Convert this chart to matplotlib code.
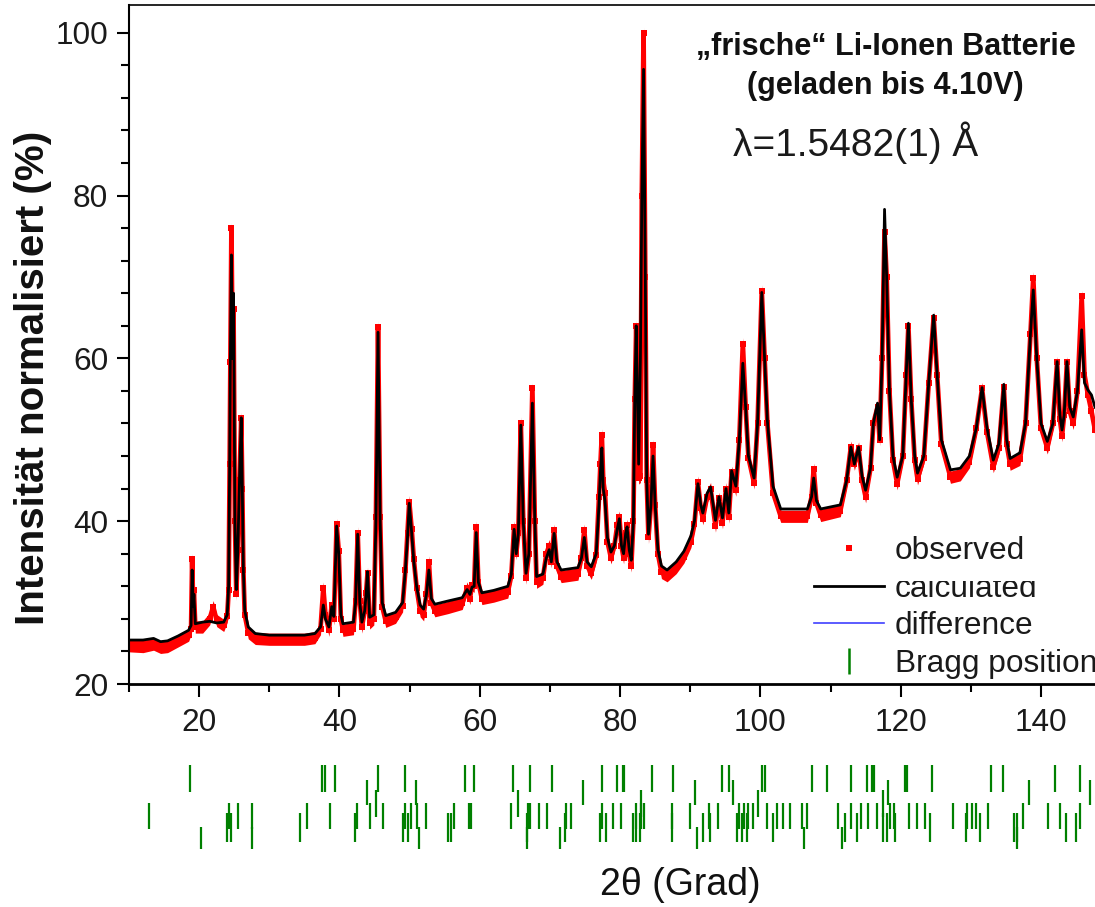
import matplotlib
matplotlib.use("Agg")
import matplotlib.pyplot as plt
from matplotlib.lines import Line2D
from matplotlib.patches import Rectangle
from matplotlib.ticker import MultipleLocator

plt.rcParams['font.family'] = ['Liberation Sans', 'DejaVu Sans']

# ---------------- data ----------------
two_theta = [10.0, 12.0, 13.5, 14.5, 15.5, 17.0, 18.5, 18.85, 19.0, 19.15, 19.25, 19.45,
             20.5, 21.5, 22.0, 22.5, 23.5, 24.0, 24.2, 24.35, 24.45, 24.6, 24.75, 24.9,
             25.1, 25.3, 25.5, 25.75, 26.0, 26.15, 26.3, 26.5, 27.0, 28.0, 30.0, 35.0,
             36.5, 37.3, 37.7, 38.0, 38.5, 38.9, 39.2, 39.6, 39.9, 40.2, 40.5, 42.0,
             42.3, 42.6, 42.9, 43.2, 43.6, 43.8, 44.0, 44.3, 44.9, 45.2, 45.5, 45.8,
             46.1, 46.6, 48.0, 49.0, 49.4, 49.7, 49.95, 50.3, 50.6, 51.0, 51.5, 52.0,
             52.4, 52.75, 53.1, 53.6, 55.5, 57.5, 58.2, 58.6, 58.9, 59.2, 59.5, 59.8,
             60.3, 62.0, 64.0, 64.5, 64.9, 65.2, 65.5, 65.85, 66.2, 66.6, 67.0, 67.5,
             67.85, 68.1, 69.0, 69.5, 69.9, 70.2, 70.6, 71.0, 71.6, 74.0, 74.5, 74.9,
             75.3, 75.9, 76.6, 77.0, 77.2, 77.4, 77.6, 77.85, 78.2, 78.7, 79.2, 79.6,
             79.9, 80.2, 80.5, 80.8, 81.0, 81.3, 81.6, 81.9, 82.1, 82.3, 82.65, 82.9,
             83.1, 83.35, 83.6, 83.8, 84.05, 84.4, 84.7, 85.0, 85.4, 85.9, 86.7, 88.0,
             89.1, 90.1, 90.6, 91.1, 91.5, 91.8, 92.4, 92.9, 93.6, 94.1, 94.6, 95.1,
             95.5, 95.9, 96.5, 97.0, 97.5, 97.9, 98.3, 99.1, 99.6, 100.2, 100.6, 101.0,
             101.8, 102.9, 106.7, 107.3, 107.6, 108.0, 108.6, 111.4, 112.3, 112.9, 113.4, 114.0,
             114.5, 115.0, 115.7, 116.1, 116.7, 117.0, 117.35, 117.7, 118.0, 118.4, 118.9, 119.5,
             120.3, 120.8, 121.1, 121.5, 122.0, 122.4, 123.3, 124.0, 124.7, 125.2, 125.8, 127.1,
             128.5, 129.8, 130.8, 131.6, 132.3, 133.2, 134.0, 134.7, 135.1, 135.6, 137.0, 137.8,
             138.5, 138.9, 139.4, 140.0, 140.9, 141.7, 142.3, 142.7, 143.0, 143.3, 143.7, 144.1,
             144.6, 145.2, 145.8, 146.2, 146.7, 147.2, 147.7]

y_calc = [25.4, 25.4, 25.6, 25.2, 25.3, 25.9, 26.6, 27.2, 34.0, 29.5, 31.0, 27.4,
          27.6, 27.7, 27.6, 27.5, 27.6, 28.5, 32.0, 47.0, 60.0, 72.7, 60.0, 68.0,
          40.0, 31.6, 36.0, 45.0, 52.7, 44.0, 34.0, 29.0, 27.0, 26.2, 26.0, 26.0,
          26.2, 27.0, 29.7, 28.0, 27.0, 29.5, 28.3, 39.4, 36.0, 28.5, 27.4, 27.6,
          30.0, 38.4, 30.0, 27.6, 29.0, 31.0, 33.8, 28.2, 28.5, 40.0, 63.2, 40.0,
          30.0, 28.4, 28.8, 30.0, 34.0, 38.0, 42.2, 38.5, 35.0, 32.0, 29.7, 29.2,
          31.0, 34.0, 30.5, 29.8, 30.2, 30.6, 31.6, 31.0, 31.9, 32.0, 38.6, 32.5,
          31.2, 31.5, 32.0, 33.5, 39.0, 36.0, 38.5, 51.8, 40.0, 33.6, 36.0, 54.5,
          40.0, 33.2, 33.5, 35.5, 36.5, 35.0, 38.5, 35.0, 34.0, 34.3, 35.5, 38.0,
          35.0, 34.4, 36.0, 42.0, 46.0, 49.0, 44.0, 42.5, 38.0, 36.2, 37.0, 39.0,
          40.3, 37.0, 36.0, 38.5, 39.3, 36.5, 35.2, 40.0, 55.0, 64.0, 47.0, 60.0,
          79.5, 95.5, 70.0, 45.0, 38.4, 42.0, 48.0, 42.0, 36.5, 34.5, 34.0, 35.0,
          36.3, 38.2, 40.0, 44.6, 42.0, 41.0, 43.4, 44.2, 40.1, 43.0, 40.4, 44.0,
          41.0, 46.2, 44.3, 50.0, 59.4, 54.0, 48.0, 45.3, 52.0, 68.1, 60.0, 52.3,
          44.3, 41.5, 41.5, 43.0, 45.3, 42.5, 41.5, 42.0, 45.0, 49.1, 47.0, 49.1,
          45.5, 43.8, 46.5, 52.0, 54.5, 50.0, 60.0, 78.3, 70.0, 56.0, 48.0, 45.4,
          48.0, 58.0, 64.3, 55.0, 48.0, 45.9, 48.0, 57.0, 65.3, 58.0, 50.0, 46.3,
          46.5, 48.0, 51.5, 56.4, 51.5, 47.5, 49.5, 56.8, 50.0, 47.7, 48.4, 52.0,
          63.0, 68.4, 60.0, 52.0, 49.8, 52.0, 59.6, 53.0, 51.2, 53.0, 59.6, 54.0,
          52.8, 56.0, 63.5, 57.0, 56.1, 55.5, 54.0]

y_obs = [24.7, 24.6, 24.9, 24.5, 24.6, 25.3, 26.0, 26.8, 35.3, 29.5, 31.5, 27.0,
         27.0, 28.0, 29.5, 27.8, 27.2, 28.3, 31.5, 47.0, 59.5, 76.0, 62.0, 66.0,
         40.0, 31.0, 36.5, 45.0, 52.7, 44.0, 34.0, 28.5, 26.3, 25.6, 25.5, 25.5,
         25.7, 26.8, 31.8, 28.5, 26.6, 29.7, 28.0, 39.6, 36.3, 28.0, 26.6, 26.8,
         30.2, 38.6, 30.2, 27.0, 29.0, 31.2, 33.6, 27.5, 28.0, 40.5, 63.9, 40.5,
         29.5, 27.7, 28.2, 29.6, 34.0, 38.5, 42.4, 39.0, 35.3, 31.8, 29.0, 28.5,
         31.0, 35.0, 30.0, 29.0, 29.4, 29.9, 31.8, 30.5, 32.2, 32.0, 39.3, 32.5,
         30.5, 30.8, 31.3, 33.3, 39.3, 36.0, 38.5, 52.1, 40.0, 33.0, 36.0, 56.3,
         40.0, 32.5, 33.0, 36.0, 37.0, 35.0, 38.9, 34.5, 33.2, 33.5, 35.5, 38.9,
         34.5, 33.6, 35.8, 43.0, 47.0, 50.6, 45.0, 43.5, 37.5, 35.5, 37.0, 39.5,
         40.5, 37.0, 35.5, 38.5, 39.5, 36.0, 34.5, 40.0, 55.0, 64.0, 45.3, 45.5,
         80.0, 100.0, 70.0, 45.0, 38.0, 42.0, 49.3, 42.0, 36.0, 33.7, 33.3, 34.3,
         35.6, 37.5, 39.6, 44.8, 41.6, 40.3, 43.0, 44.0, 39.4, 42.8, 39.8, 44.0,
         40.5, 46.0, 43.8, 50.0, 61.8, 54.0, 47.8, 44.7, 52.0, 68.3, 60.0, 52.0,
         43.5, 40.6, 40.6, 43.0, 46.4, 42.2, 40.7, 41.3, 45.0, 49.1, 47.0, 49.0,
         45.0, 43.0, 46.5, 52.0, 54.0, 50.0, 60.0, 75.5, 70.0, 56.0, 47.5, 44.6,
         48.0, 58.0, 64.0, 55.0, 47.5, 45.2, 47.8, 57.0, 65.0, 58.0, 49.5, 45.4,
         45.7, 47.3, 51.5, 56.3, 51.0, 46.7, 49.0, 56.5, 49.5, 47.0, 47.6, 52.0,
         63.0, 69.9, 60.0, 51.5, 49.0, 52.0, 59.5, 52.5, 50.5, 53.0, 59.5, 53.5,
         52.0, 56.0, 67.6, 58.0, 55.5, 53.5, 51.2]

# Bragg reflection positions (2theta), one list per tick row
bragg_row1 = [18.7, 37.5, 37.9, 39.4, 45.5, 49.4, 57.9, 59.2, 64.7, 67.1, 70.3, 77.4,
              79.6, 80.4, 80.6, 84.5, 87.6, 94.5, 95.5, 100.3, 100.6, 107.4, 109.5, 112.9,
              115.2, 115.9, 116.2, 120.6, 120.9, 124.5, 132.9, 134.6, 142.0, 145.5]
bragg_row2 = [43.9, 50.9, 74.7, 90.7, 96.1, 118.2, 138.3, 147.0]
bragg_row3 = [45.2, 65.5, 83.0, 99.7, 117.5]
bragg_row4 = [12.9, 24.2, 25.6, 27.5, 35.4, 38.7, 42.5, 44.4, 46.2, 49.3, 50.2, 51.1,
              52.4, 56.3, 58.4, 58.8, 64.4, 66.9, 67.2, 68.5, 69.6, 72.3, 73.0, 77.4,
              79.0, 80.1, 82.3, 83.0, 83.4, 87.4, 89.9, 92.7, 94.0, 97.0, 97.6, 98.2,
              99.0, 100.9, 102.4, 103.2, 104.2, 106.0, 106.6, 111.1, 112.9, 114.4, 115.4,
              116.6, 118.5, 119.1, 121.2, 122.3, 123.5, 127.5, 129.4, 130.1, 130.8, 132.4,
              137.4, 141.0, 142.7, 145.5]
bragg_row5 = [24.0, 24.5, 34.4, 42.2, 49.1, 49.7, 55.5, 55.9, 66.8, 72.1, 77.1, 78.0,
              81.9, 82.3, 82.9, 87.4, 91.8, 92.8, 96.7, 97.4, 98.1, 101.8, 112.1, 113.8,
              117.5, 118.0, 119.2, 124.2, 129.3, 131.3, 136.1, 136.6, 143.6, 145.0]
bragg_row6 = [20.3, 27.5, 51.3, 66.7, 71.5, 91.0, 106.2, 111.7, 136.6]

x_ticks = [20, 40, 60, 80, 100, 120, 140]
y_ticks = [20, 40, 60, 80, 100]

# ---------------- figure ----------------
W, H = 1095, 907
fig = plt.figure(figsize=(W / 100, H / 100), dpi=100)

def fx(px):
    return px / W

def fy(py):
    return 1 - py / H

ax = fig.add_axes([fx(129), fy(684), 1 - fx(129), (684 - 5) / H])
ax.set_xlim(10, 147.7)
ax.set_ylim(20, 103.4)

ax.fill_between(two_theta, [v - 0.75 for v in y_obs], [v + 0.75 for v in y_obs],
                color='#ff0000', lw=0, zorder=2)
ax.plot(two_theta, y_obs, color='#ff0000', lw=3.4, marker='s', ms=4.8, mew=0, zorder=2)
ax.plot(two_theta, y_calc, color='black', lw=2.0, zorder=3)

ax.set_xticks(x_ticks)
ax.set_yticks(y_ticks)
ax.xaxis.set_minor_locator(MultipleLocator(10))
ax.yaxis.set_minor_locator(MultipleLocator(4))
ax.tick_params(axis='both', which='major', direction='out', length=9, width=1.5,
               labelsize=22.8, colors='black', labelcolor='#1a1a1a')
ax.tick_params(axis='both', which='minor', direction='out', length=5.5, width=1.5)
ax.tick_params(axis='y', which='major', pad=6)
ax.tick_params(axis='x', which='major', pad=8)
ax.tick_params(top=False, right=False, which='both')
ax.spines['right'].set_visible(False)
ax.spines['left'].set_linewidth(1.5)
ax.spines['bottom'].set_linewidth(2.0)
ax.spines['top'].set_linewidth(1.2)

# Bragg ticks strip below the axes
axb = fig.add_axes([fx(129), fy(855), 1 - fx(129), 95 / H], sharex=ax)
axb.set_ylim(95, 0)
axb.axis('off')
row_spans = [(5, 32), (20, 45), (30, 57), (43, 69), (53, 82), (67, 89)]
for row, (y0, y1) in zip([bragg_row1, bragg_row2, bragg_row3, bragg_row4, bragg_row5, bragg_row6],
                         row_spans):
    axb.vlines(row, y0, y1, color='#008000', lw=1.6)

# legend
handles = [Line2D([], [], color='#ff0000', marker='s', ls='none', ms=4.8, mew=0),
           Line2D([], [], color='black', lw=2.0),
           Line2D([], [], color='#4040ff', lw=1.2),
           Line2D([], [], color='#008000', marker='|', ls='none', ms=19, mew=1.8)]
labels = ['observed', 'calculated', 'difference', 'Bragg position']
leg = ax.legend(handles, labels, loc='upper left', bbox_to_anchor=(fx(814), fy(536)),
                bbox_transform=fig.transFigure, frameon=False, borderpad=0,
                borderaxespad=0, handlelength=2.2, handletextpad=0.35,
                labelspacing=0.24, fontsize=22.8)
for t in leg.get_texts():
    t.set_color('#1a1a1a')
# white strip that hides the top of "calculated", as in the reference
fig.patches.append(Rectangle((fx(892), fy(581)), fx(150), (581 - 562) / H,
                             transform=fig.transFigure, facecolor='white',
                             edgecolor='none', zorder=10))

# texts
fig.text(fx(886), fy(47), '\u201efrische\u201c Li-Ionen Batterie', fontsize=22,
         fontweight='bold', ha='center', va='center', color='#111111')
fig.text(fx(885), fy(86), '(geladen bis 4.10V)', fontsize=22,
         fontweight='bold', ha='center', va='center', color='#111111')
fig.text(fx(856), fy(143), '\u03bb=1.5482(1) \u00c5', fontsize=28,
         ha='center', va='center', color='#1a1a1a')
fig.text(fx(33), fy(378), 'Intensität normalisiert (%)', fontsize=29,
         fontweight='bold', rotation=90, ha='center', va='center', color='#111111')
fig.text(fx(680), fy(885), '2\u03b8 (Grad)', fontsize=27,
         ha='center', va='center', color='#111111')

fig.savefig('out.png', dpi=100)
